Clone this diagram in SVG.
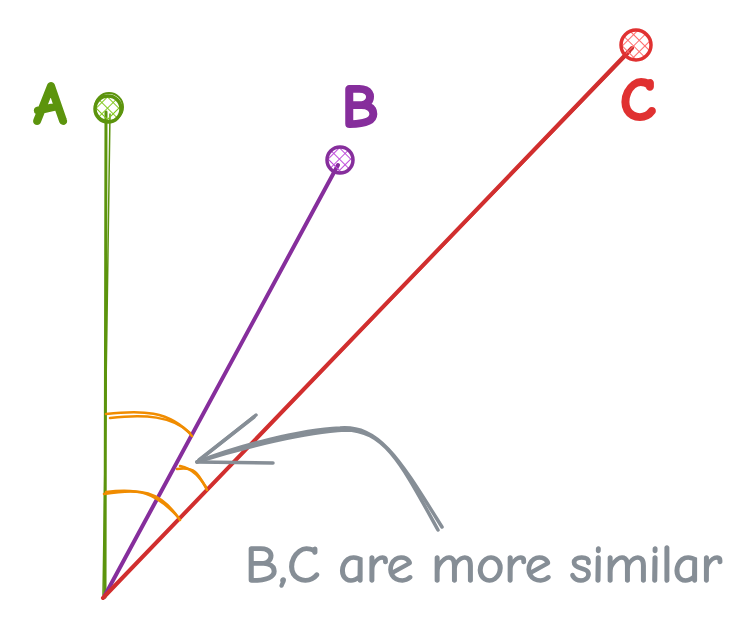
<svg xmlns="http://www.w3.org/2000/svg" width="751" height="628" viewBox="0 0 751 628">
<defs>
<style>
.ln{fill:none;stroke-linecap:round;stroke-linejoin:round}
.lbl{font-family:"Comic Neue","Liberation Sans",sans-serif;font-weight:bold;stroke-width:2;stroke-linejoin:round}
</style>
<pattern id="hg" width="8" height="8" patternUnits="userSpaceOnUse" patternTransform="rotate(45)"><path d="M0 0V8M0 0H8" stroke="#82c91e" stroke-width="2"/></pattern>
<pattern id="hp" width="8" height="8" patternUnits="userSpaceOnUse" patternTransform="rotate(45)"><path d="M0 0V8M0 0H8" stroke="#be4bdb" stroke-width="2"/></pattern>
<pattern id="hr" width="8" height="8" patternUnits="userSpaceOnUse" patternTransform="rotate(45)"><path d="M0 0V8M0 0H8" stroke="#ff6b6b" stroke-width="2"/></pattern>
</defs>
<rect width="751" height="628" fill="#fff"/>
<g id="connectors">
<g id="vecA">
<path class="ln" d="M105 597 L106 112" stroke="#5c940d" stroke-width="3"/>
<path class="ln" d="M103 595 L110 114" stroke="#5c940d" stroke-width="1.5"/>
</g>
<g id="vecB">
<path class="ln" d="M104 597 L338 165" stroke="#862e9c" stroke-width="4"/>
</g>
<g id="vecC">
<path class="ln" d="M103 598 L632 48" stroke="#d12f2f" stroke-width="4"/>
<path class="ln" d="M106 595 L630 52" stroke="#d12f2f" stroke-width="2"/>
</g>
<g id="angles" stroke="#f08c00" stroke-width="2.5">
<path class="ln" d="M106 414 C140 410 170 410 192 436"/>
<path class="ln" d="M110 418 C145 414 172 416 190 433"/>
<path class="ln" d="M104 494 C140 488 160 490 180 520"/>
<path class="ln" d="M106 492 C138 488 155 492 178 517"/>
<path class="ln" d="M177 469 C196 466 199 475 207 490"/>
<path class="ln" d="M180 466 C194 469 200 478 206 487"/>
</g>
<g id="arrow" stroke="#868e96" stroke-width="3.5">
<path class="ln" d="M442 527 C400 460 380 425 340 428 C300 430 240 445 197 462"/>
<path class="ln" d="M438 530 C402 465 385 430 345 430 C305 432 245 447 200 461"/>
<path class="ln" d="M197 462 L256 415"/>
<path class="ln" d="M197 462 L273 463"/>
<path class="ln" d="M199 460 L254 417"/>
</g>
</g>
<g id="pointA">
<circle cx="108" cy="109" r="13" fill="url(#hg)" stroke="#5c940d" stroke-width="3.5"/>
<circle cx="109" cy="107" r="14" fill="none" stroke="#5c940d" stroke-width="2"/>
</g>
<g id="pointB">
<circle cx="340" cy="160" r="13" fill="url(#hp)" stroke="#862e9c" stroke-width="3.5"/>
</g>
<g id="pointC">
<circle cx="636" cy="45" r="15" fill="url(#hr)" stroke="#e03131" stroke-width="3.5"/>
</g>
<g id="labelA"><text class="lbl" x="50" y="124" font-size="60" fill="#5c940d" stroke="#5c940d" text-anchor="middle">A</text></g>
<g id="labelB"><text class="lbl" x="360" y="127" font-size="60" fill="#862e9c" stroke="#862e9c" text-anchor="middle">B</text></g>
<g id="labelC"><text class="lbl" x="638" y="120" font-size="60" fill="#e03131" stroke="#e03131" text-anchor="middle">C</text></g>
<g id="note"><text x="245" y="582" font-family="Comic Neue,Liberation Sans,sans-serif" font-size="52" fill="#868e96" stroke="#868e96" stroke-width="1.5" textLength="477" lengthAdjust="spacingAndGlyphs">B,C are more similar</text></g>
</svg>
